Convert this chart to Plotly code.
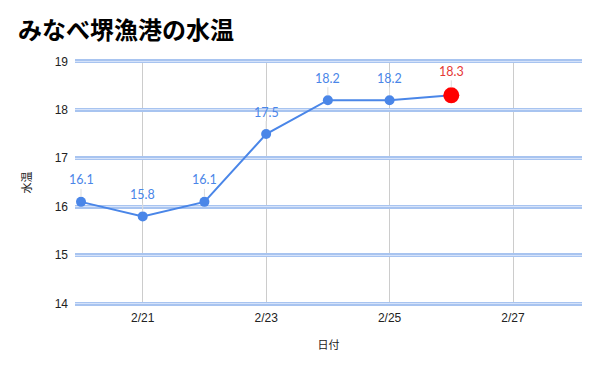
import plotly.graph_objects as go

dates = ["2024-02-20", "2024-02-21", "2024-02-22", "2024-02-23",
         "2024-02-24", "2024-02-25", "2024-02-26"]
temps = [16.1, 15.8, 16.1, 17.5, 18.2, 18.2, 18.3]
labels = ["16.1", "15.8", "16.1", "17.5", "18.2", "18.2", "18.3"]
y_ticks = [14, 15, 16, 17, 18, 19]

blue = "#4a86e8"
red = "#ff0000"

fig = go.Figure()
fig.add_trace(go.Scatter(
    x=dates, y=temps, mode="lines+markers",
    line=dict(color=blue, width=2),
    marker=dict(color=blue, size=10),
    hoverinfo="skip", showlegend=False, yaxis="y",
))
fig.add_trace(go.Scatter(
    x=[dates[-1]], y=[temps[-1]], mode="markers",
    marker=dict(color=red, size=16),
    hoverinfo="skip", showlegend=False,
))
fig.add_trace(go.Scatter(x=[dates[0]], y=[temps[0]], mode="markers",
                         marker=dict(opacity=0), yaxis="y2",
                         hoverinfo="skip", showlegend=False))

for i, (d, t, lab) in enumerate(zip(dates, temps, labels)):
    last = i == len(dates) - 1
    fig.add_annotation(
        x=d, y=t, text=lab, showarrow=True, arrowhead=0,
        arrowcolor="#dddddd", arrowwidth=1, ax=0, ay=-24 if last else -22,
        standoff=5 if not last else 8,
        font=dict(family="Lato, Open Sans, sans-serif", size=12.5,
                  color="#e53935" if last else blue),
    )

W, H = 592, 363
yr = [13.95, 19.05]
fig.update_layout(
    width=W, height=H,
    margin=dict(l=67, r=18, t=51, b=65),
    plot_bgcolor="white", paper_bgcolor="white",
    title=dict(text="<b>みなべ堺漁港の水温</b>", x=10 / W, xanchor="left",
               y=1 - 23 / H, yanchor="middle",
               font=dict(family="Noto Sans CJK JP", size=24, color="#000000")),
    font=dict(family="Liberation Sans, Arial, sans-serif", size=12, color="#222222"),
    xaxis=dict(
        type="date", automargin=False,
        range=["2024-02-19 21:40", "2024-02-28 02:50"],
        tick0="2024-02-21", dtick=2 * 86400000, tickformat="%-m/%-d",
        showgrid=True, gridcolor="#cccccc", gridwidth=1,
        zeroline=False, showline=False, ticks="", ticklabelstandoff=3,
        title=dict(text="日付", font=dict(family="Noto Sans CJK JP", size=11, color="#222222"),
                   standoff=17),
    ),
    yaxis=dict(
        range=yr, tickvals=y_ticks, ticktext=[str(v) for v in y_ticks],
        automargin=False,
        showgrid=True, gridcolor="#a8c4f0", gridwidth=4,
        zeroline=False, showline=False, ticks="", ticklabelstandoff=6,
        title=dict(text="水温", font=dict(family="Noto Sans CJK JP", size=11, color="#222222"),
                   standoff=20),
    ),
    yaxis2=dict(
        range=yr, tickvals=y_ticks, overlaying="y", showticklabels=False,
        automargin=False,
        showgrid=True, gridcolor="#d6e3fa", gridwidth=1, zeroline=False,
        layer="below traces",
    ),
)

fig.write_html("out.html")
